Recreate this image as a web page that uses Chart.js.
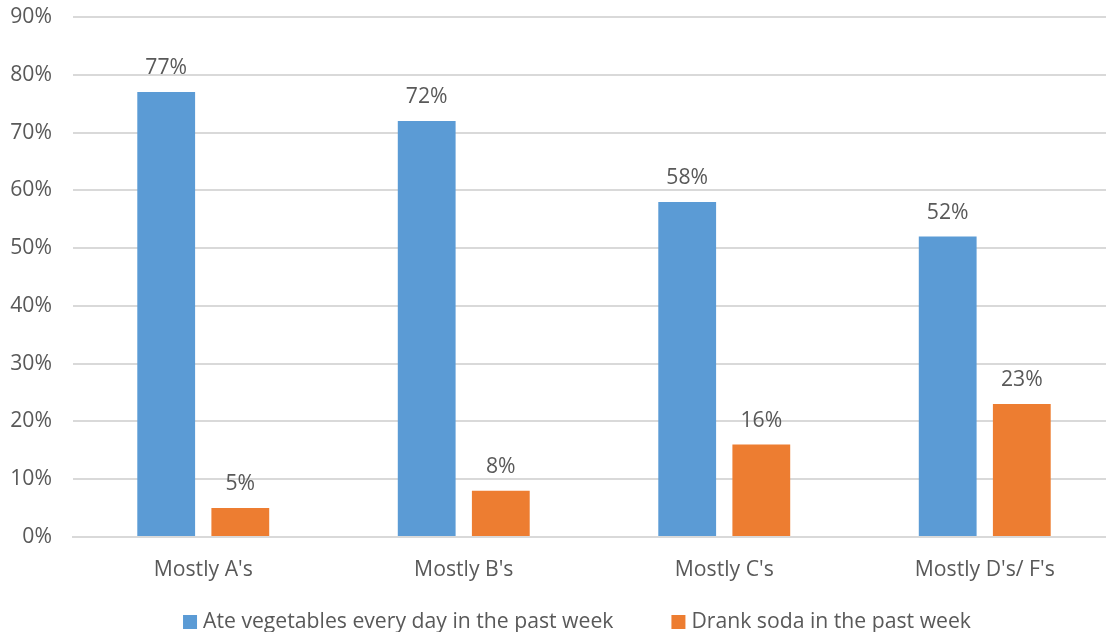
<!DOCTYPE html>
<html>
<head>
<meta charset="utf-8">
<script src="https://cdn.jsdelivr.net/npm/chart.js@4/dist/chart.umd.min.js"></script>
<style>
  html, body { margin: 0; padding: 0; background: #fff; overflow: hidden; }
  /* the plot runs a few pixels past the right edge of the window */
  #wrap { width: 1115px; height: 632px; }
</style>
</head>
<body>
<div id="wrap"><canvas id="grades"></canvas></div>
<script>
// grade groups along the x axis
const categories = ["Mostly A's", "Mostly B's", "Mostly C's", "Mostly D's/ F's"];
// percent of students in each group
const vegetables = [77, 72, 58, 52];
const soda = [5, 8, 16, 23];
const seriesNames = ['Ate vegetables every day in the past week', 'Drank soda in the past week'];

const textColor = '#595959';
const fontFamily = "'Open Sans', 'Liberation Sans', sans-serif";
const fontSize = 21.2;

// writes the value above every bar
const valueLabels = {
    id: 'valueLabels',
    afterDatasetsDraw(chart) {
        const ctx = chart.ctx;
        ctx.save();
        ctx.fillStyle = textColor;
        ctx.font = fontSize + 'px ' + fontFamily;
        ctx.textAlign = 'center';
        ctx.textBaseline = 'alphabetic';
        chart.data.datasets.forEach((ds, i) => {
            chart.getDatasetMeta(i).data.forEach((bar, j) => {
                ctx.fillText(ds.data[j] + '%', bar.x, bar.y - 18);
            });
        });
        ctx.restore();
    }
};

// legend row under the axis: square swatch + series name, wide gap between items
const bottomLegend = {
    id: 'bottomLegend',
    afterDraw(chart) {
        const ctx = chart.ctx;
        const box = 14, textGap = 6, itemGap = 58;
        const y = chart.height - 10;
        ctx.save();
        ctx.font = fontSize + 'px ' + fontFamily;
        ctx.textBaseline = 'middle';
        const items = chart.data.datasets.map(ds => ({
            text: ds.label,
            color: ds.backgroundColor,
            w: box + textGap + ctx.measureText(ds.label).width
        }));
        const total = items.reduce((s, it) => s + it.w, 0) + itemGap * (items.length - 1);
        let x = (chart.chartArea.left + chart.chartArea.right) / 2 - 17 - total / 2;
        items.forEach(it => {
            ctx.fillStyle = it.color;
            ctx.fillRect(x, y - box / 2, box, box);
            ctx.fillStyle = textColor;
            ctx.fillText(it.text, x + box + textGap, y);
            x += it.w + itemGap;
        });
        ctx.restore();
    }
};

new Chart(document.getElementById('grades'), {
    type: 'bar',
    data: {
        labels: categories,
        datasets: [{
            label: seriesNames[0],
            data: vegetables,
            backgroundColor: '#5B9BD5',
            barPercentage: 0.78,
            categoryPercentage: 0.569
        }, {
            label: seriesNames[1],
            data: soda,
            backgroundColor: '#ED7D31',
            barPercentage: 0.78,
            categoryPercentage: 0.569
        }]
    },
    options: {
        responsive: true,
        maintainAspectRatio: false,
        animation: false,
        layout: { padding: { top: 17, right: 0, bottom: 0, left: 0 } },
        plugins: {
            legend: { display: false },
            tooltip: { enabled: false }
        },
        scales: {
            x: {
                grid: { display: false, drawTicks: false },
                border: { color: '#D9D9D9', width: 2 },
                ticks: { color: textColor, padding: 20, font: { family: fontFamily, size: fontSize } },
                afterFit: s => { s.height = 95; }
            },
            y: {
                min: 0,
                max: 90,
                grid: { color: '#D9D9D9', lineWidth: 2, drawTicks: false },
                border: { display: false },
                ticks: {
                    stepSize: 10,
                    color: textColor,
                    padding: 21,
                    font: { family: fontFamily, size: fontSize },
                    callback: v => v + '%'
                },
                afterFit: s => { s.width = 73; s.paddingTop = 0; s.paddingBottom = 0; }
            }
        }
    },
    plugins: [valueLabels, bottomLegend]
});
</script>
</body>
</html>
